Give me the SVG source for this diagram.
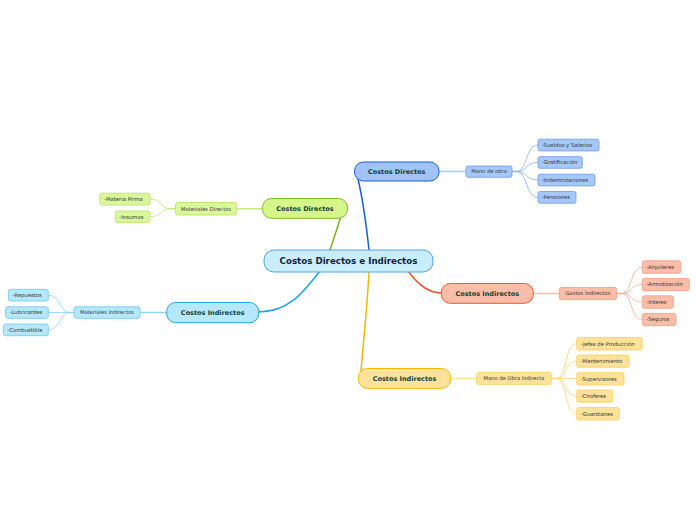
<svg xmlns="http://www.w3.org/2000/svg" width="696" height="520" viewBox="0 0 696 520">
<style>
text{font-family:"DejaVu Sans","Verdana",sans-serif}
.main{font-size:6.5px;font-weight:bold;fill:#123d33;text-anchor:middle}
.mid{font-size:5.2px;fill:#333;text-anchor:middle}
.leaf{font-size:5.3px;fill:#333}
.c{fill:none;stroke-linecap:round}
</style>
<rect width="696" height="520" fill="#fff"/>
<g id="connectors">
<path class="c" d="M369,250 C366,222 362,196 358,179" stroke="#1a5fd0" stroke-width="1.5"/>
<path class="c" d="M330,250 C334,238 338,226 341,216" stroke="#7ab317" stroke-width="1.5"/>
<path class="c" d="M320,271 C302,294 288,312 258,312" stroke="#1aa3e8" stroke-width="1.5"/>
<path class="c" d="M408,271 C420,287 430,293 442,293" stroke="#f0552a" stroke-width="1.5"/>
<path class="c" d="M369,272 C367,310 363,345 361,371" stroke="#f5b800" stroke-width="1.5"/>
<path class="c" d="M439,171.5 H466" stroke="#a9c8f2" stroke-width="1.5"/>
<path class="c" d="M236.7,208.7 H262.3" stroke="#c9eb8a" stroke-width="1.5"/>
<path class="c" d="M140,312.5 H166.7" stroke="#8fd6f5" stroke-width="1.5"/>
<path class="c" d="M533.3,293.5 H559.3" stroke="#f9b9a3" stroke-width="1.5"/>
<path class="c" d="M450.7,378.5 H476.7" stroke="#fde39c" stroke-width="1.5"/>
<g stroke="#8fb7ee" stroke-width="0.9" fill="none">
<path d="M512,171.5 H517"  stroke-width="1.6"/>
<path d="M516,171.5 C528,171.5 525,145 538,145"/>
<path d="M516,171.5 C528,171.5 525,162.5 538,162.5"/>
<path d="M516,171.5 C528,171.5 525,180 538,180"/>
<path d="M516,171.5 C528,171.5 525,197.3 538,197.3"/>
</g>
<g stroke="#c4e97a" stroke-width="0.9" fill="none">
<path d="M175.3,208.7 H170.5" stroke-width="1.6"/>
<path d="M171,208.7 C160,208.7 162,199 150,199"/>
<path d="M171,208.7 C160,208.7 162,216.7 150,216.7"/>
</g>
<g stroke="#8fd6f5" stroke-width="0.9" fill="none">
<path d="M74,312.5 H69" stroke-width="1.6"/>
<path d="M70,312.5 C59,312.5 61,295.2 48.3,295.2"/>
<path d="M70,312.5 H48.3"/>
<path d="M70,312.5 C59,312.5 61,329.8 48.3,329.8"/>
</g>
<g stroke="#f9b49c" stroke-width="0.9" fill="none">
<path d="M616.7,293.5 H622" stroke-width="1.6"/>
<path d="M621,293.5 C633,293.5 630,267 642.3,267"/>
<path d="M621,293.5 C633,293.5 630,284.5 642.3,284.5"/>
<path d="M621,293.5 C633,293.5 630,302 642.3,302"/>
<path d="M621,293.5 C633,293.5 630,319.5 642.3,319.5"/>
</g>
<g stroke="#fdd77a" stroke-width="0.9" fill="none">
<path d="M551.3,378.5 H556.5" stroke-width="1.6"/>
<path d="M556,378.5 C568,378.5 564,343.7 576.7,343.7"/>
<path d="M556,378.5 C568,378.5 564,361.2 576.7,361.2"/>
<path d="M556,378.5 H576.7"/>
<path d="M556,378.5 C568,378.5 564,396.2 576.7,396.2"/>
<path d="M556,378.5 C568,378.5 564,413.7 576.7,413.7"/>
</g>
</g>
<g id="central">
<rect x="264" y="250" width="169" height="22" rx="10" fill="#c9edfb" stroke="#4aa6e0" stroke-width="1"/>
<text x="348.5" y="264.2" font-size="8.7" font-weight="bold" fill="#0f1f40" text-anchor="middle">Costos Directos e Indirectos</text>
</g>
<g id="cd-blue">
<rect x="354.5" y="162" width="84.5" height="19" rx="9" fill="#a0c4f7" stroke="#1a5fd0" stroke-width="1"/>
<text class="main" x="396.7" y="173.8">Costos Directos</text>
</g>
<g id="mano-obra">
<rect x="466" y="166" width="46" height="11.3" rx="2" fill="#a6c8f8" stroke="#6b9be6" stroke-width="0.8"/>
<text class="mid" x="489" y="173.4">Mano de obra</text>
</g>
<g id="sueldos"><rect x="538" y="139.2" width="61" height="11.7" rx="2" fill="#a6c8f8" stroke="#6b9be6" stroke-width="0.8"/><text class="leaf" x="541.7" y="146.9">-Sueldos y Salarios</text></g>
<g id="gratificacion"><rect x="538" y="156.7" width="44.3" height="11.6" rx="2" fill="#a6c8f8" stroke="#6b9be6" stroke-width="0.8"/><text class="leaf" x="541.7" y="164.4">-Gratificación</text></g>
<g id="indemnizaciones"><rect x="538" y="174.2" width="57" height="11.7" rx="2" fill="#a6c8f8" stroke="#6b9be6" stroke-width="0.8"/><text class="leaf" x="541.7" y="181.9">-Indemnizaciones</text></g>
<g id="pensiones"><rect x="538" y="191.5" width="38" height="11.7" rx="2" fill="#a6c8f8" stroke="#6b9be6" stroke-width="0.8"/><text class="leaf" x="541.7" y="199.2">-Pensiones</text></g>

<g id="cd-green">
<rect x="262.5" y="198.5" width="85" height="19.8" rx="9" fill="#d6f68c" stroke="#7fbf1f" stroke-width="1"/>
<text class="main" x="305" y="210.6">Costos Directos</text>
</g>
<g id="mat-directos"><rect x="175.5" y="202.5" width="61.2" height="12.5" rx="2" fill="#d9f79c" stroke="#b8e05f" stroke-width="0.8"/><text class="mid" x="206.1" y="210.6">Materiales Directos</text></g>
<g id="materia-prima"><rect x="100" y="193.2" width="50" height="11.8" rx="2" fill="#d9f79c" stroke="#b8e05f" stroke-width="0.8"/><text class="leaf" x="104" y="200.9">-Materia Prima</text></g>
<g id="insumos"><rect x="115.3" y="211" width="34.7" height="11.4" rx="2" fill="#d9f79c" stroke="#b8e05f" stroke-width="0.8"/><text class="leaf" x="119.3" y="218.6">-Insumos</text></g>

<g id="ci-cyan">
<rect x="166.7" y="302.5" width="92" height="20.2" rx="9" fill="#b5e8fb" stroke="#1aa8e8" stroke-width="1"/>
<text class="main" x="212.7" y="314.8">Costos Indirectos</text>
</g>
<g id="mat-indirectos"><rect x="74" y="306.8" width="66" height="11.5" rx="2" fill="#b5e8fb" stroke="#6cc8f0" stroke-width="0.8"/><text class="mid" x="107" y="314.4">Materiales Indirectos</text></g>
<g id="repuestos"><rect x="8.5" y="289.3" width="39.8" height="11.7" rx="2" fill="#b5e8fb" stroke="#6cc8f0" stroke-width="0.8"/><text class="leaf" x="12.3" y="297">-Repuestos</text></g>
<g id="lubricantes"><rect x="5.7" y="306.8" width="42.6" height="11.5" rx="2" fill="#b5e8fb" stroke="#6cc8f0" stroke-width="0.8"/><text class="leaf" x="9.5" y="314.4">-Lubricantes</text></g>
<g id="combustible"><rect x="3.5" y="324" width="44.8" height="11.7" rx="2" fill="#b5e8fb" stroke="#6cc8f0" stroke-width="0.8"/><text class="leaf" x="7.3" y="331.7">-Combustible</text></g>

<g id="ci-red">
<rect x="441.3" y="283.5" width="92" height="19.8" rx="9" fill="#f9bda9" stroke="#f05a28" stroke-width="1"/>
<text class="main" x="487.3" y="295.6">Costos Indirectos</text>
</g>
<g id="gastos-indirectos"><rect x="559.3" y="287.5" width="57.4" height="12.2" rx="2" fill="#f9bda9" stroke="#f59a7e" stroke-width="0.8"/><text class="mid" x="588" y="295.4">Gastos Indirectos</text></g>
<g id="alquileres"><rect x="642.3" y="260.8" width="38.4" height="12.5" rx="2" fill="#f9bda9" stroke="#f59a7e" stroke-width="0.8"/><text class="leaf" x="646.3" y="268.9">-Alquileres</text></g>
<g id="armotizacion"><rect x="642.3" y="278.4" width="47" height="12.3" rx="2" fill="#f9bda9" stroke="#f59a7e" stroke-width="0.8"/><text class="leaf" x="646.3" y="286.4">-Armotización</text></g>
<g id="interes"><rect x="642.3" y="295.8" width="31" height="12.5" rx="2" fill="#f9bda9" stroke="#f59a7e" stroke-width="0.8"/><text class="leaf" x="646.3" y="303.9">-Interes</text></g>
<g id="seguros"><rect x="642.3" y="313.4" width="33.7" height="12.3" rx="2" fill="#f9bda9" stroke="#f59a7e" stroke-width="0.8"/><text class="leaf" x="646.3" y="321.4">-Seguros</text></g>

<g id="ci-yellow">
<rect x="358.5" y="368.5" width="92.2" height="19.8" rx="9" fill="#fee29a" stroke="#f6b900" stroke-width="1"/>
<text class="main" x="404.6" y="380.6">Costos Indirectos</text>
</g>
<g id="mano-obra-indirecta"><rect x="476.7" y="372.4" width="74.6" height="12.3" rx="2" fill="#fee29a" stroke="#f8cf60" stroke-width="0.8"/><text class="mid" x="514" y="380.4">Mano de Obra Indirecta</text></g>
<g id="jefes"><rect x="576.7" y="337.4" width="65.6" height="12.6" rx="2" fill="#fee29a" stroke="#f8cf60" stroke-width="0.8"/><text class="leaf" x="580.7" y="345.5">-Jefes de Producción</text></g>
<g id="mantenimiento"><rect x="576.7" y="355" width="52.6" height="12.3" rx="2" fill="#fee29a" stroke="#f8cf60" stroke-width="0.8"/><text class="leaf" x="580.7" y="363">-Mantenimiento</text></g>
<g id="supervisores"><rect x="576.7" y="372.7" width="47.3" height="12.3" rx="2" fill="#fee29a" stroke="#f8cf60" stroke-width="0.8"/><text class="leaf" x="580.7" y="380.7">-Supervisores</text></g>
<g id="choferes"><rect x="576.7" y="390" width="36" height="12.3" rx="2" fill="#fee29a" stroke="#f8cf60" stroke-width="0.8"/><text class="leaf" x="580.7" y="398">-Choferes</text></g>
<g id="guardianes"><rect x="576.7" y="407.4" width="42.6" height="12.6" rx="2" fill="#fee29a" stroke="#f8cf60" stroke-width="0.8"/><text class="leaf" x="580.7" y="415.5">-Guardianes</text></g>
</svg>
